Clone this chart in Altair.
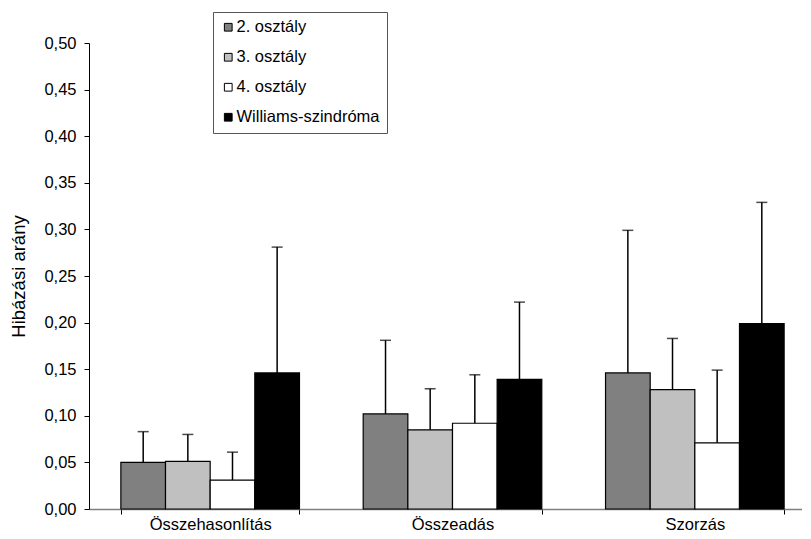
import altair as alt
import pandas as pd

categories = ["Összehasonlítás", "Összeadás", "Szorzás"]
groups = ["2. osztály", "3. osztály", "4. osztály", "Williams-szindróma"]
colors = ["#808080", "#c0c0c0", "#ffffff", "#000000"]

mean_2 = [0.050, 0.102, 0.146]
mean_3 = [0.051, 0.085, 0.128]
mean_4 = [0.031, 0.092, 0.071]
mean_w = [0.146, 0.139, 0.199]

upper_2 = [0.083, 0.181, 0.299]
upper_3 = [0.080, 0.129, 0.183]
upper_4 = [0.061, 0.144, 0.149]
upper_w = [0.281, 0.222, 0.329]

y_ticks = [0.0, 0.05, 0.10, 0.15, 0.20, 0.25, 0.30, 0.35, 0.40, 0.45, 0.50]

means = [mean_2, mean_3, mean_4, mean_w]
uppers = [upper_2, upper_3, upper_4, upper_w]
rows = []
for g, m, u in zip(groups, means, uppers):
    for c, mv, uv in zip(categories, m, u):
        rows.append({"kat": c, "csoport": g, "ertek": mv, "felso": uv})
df = pd.DataFrame(rows)

FONT = "Liberation Sans"

x_enc = alt.X("kat:N", sort=categories, title=None,
              scale=alt.Scale(paddingInner=0.263, paddingOuter=0.1315),
              axis=alt.Axis(labelAngle=0, labelFontSize=16.5, labelFont=FONT,
                            labelColor="black", labelPadding=2,
                            tickBand="extent", tickSize=5, tickColor="black",
                            domainColor="#808080", domainWidth=1.5))
xo_enc = alt.XOffset("csoport:N", sort=groups,
                     scale=alt.Scale(paddingInner=0, paddingOuter=0))

bars = alt.Chart(df).mark_bar(stroke="black", strokeWidth=1.2).encode(
    x=x_enc,
    xOffset=xo_enc,
    y=alt.Y("ertek:Q", title="Hibázási arány",
            scale=alt.Scale(domain=[0, 0.5], nice=False),
            axis=alt.Axis(values=y_ticks,
                          labelExpr="replace(format(datum.value, '.2f'), '.', ',')",
                          labelFontSize=16.5, labelFont=FONT, labelColor="black",
                          labelPadding=8, tickSize=5, tickColor="black",
                          domainColor="black", grid=False,
                          titleFont=FONT, titleFontSize=18.5, titleFontWeight="normal",
                          titleColor="black", titlePadding=15)),
    fill=alt.Fill("csoport:N", sort=groups,
                  scale=alt.Scale(domain=groups, range=colors),
                  legend=alt.Legend(title=None, orient="none", legendX=124, legendY=-31,
                                    symbolType="square", symbolSize=60,
                                    symbolStrokeColor="black", symbolStrokeWidth=1,
                                    labelFont=FONT, labelFontSize=16.5, labelColor="black",
                                    labelOffset=0, rowPadding=13, padding=7,
                                    strokeColor="#555555", fillColor="white")),
)

err = alt.Chart(df).mark_rule(color="black", strokeWidth=1.5).encode(
    x=alt.X("kat:N", sort=categories),
    xOffset=xo_enc,
    y="ertek:Q",
    y2="felso:Q",
)

caps = alt.Chart(df).mark_tick(color="black", thickness=1.5, size=11, orient="horizontal").encode(
    x=alt.X("kat:N", sort=categories),
    xOffset=xo_enc,
    y="felso:Q",
)

chart = alt.layer(bars, err, caps).properties(
    width=727, height=466,
    autosize=alt.AutoSizeParams(type="none"),
    padding={"left": 81, "top": 35, "right": -14, "bottom": 22},
    background="white",
).configure_view(stroke=None)

chart.save("out.html", embed_options={"renderer": "svg", "actions": False})
